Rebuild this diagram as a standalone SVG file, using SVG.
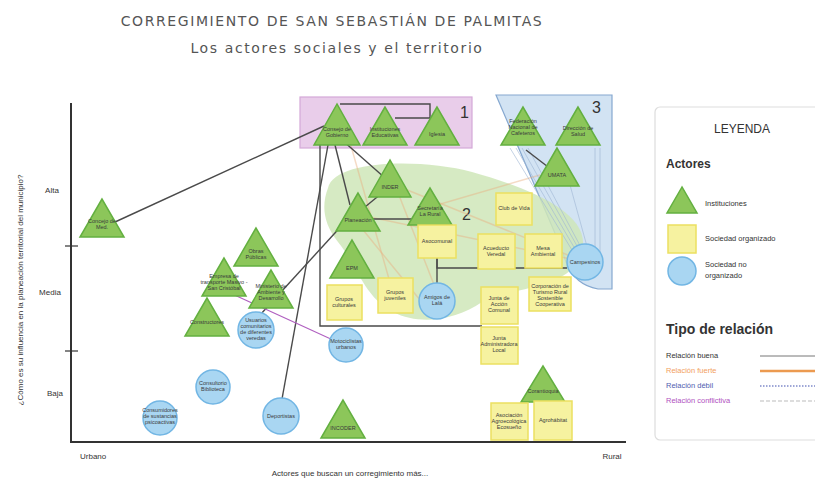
<svg xmlns="http://www.w3.org/2000/svg" width="815" height="480" viewBox="0 0 815 480">
<defs>
<style>
.t{font-family:"Liberation Sans Narrow","Liberation Sans",Arial,sans-serif;fill:#333}
.title{font-family:"DejaVu Sans","Liberation Sans",sans-serif;fill:#555;font-size:14px;letter-spacing:1.6px}
.nl{font-family:"Liberation Sans Narrow","Liberation Sans",Arial,sans-serif;font-size:5.5px;fill:#3a3a3a;text-anchor:middle}
.tri{fill:#8cc65a;stroke:#63b040;stroke-width:1.5}
.sq{fill:#f6f2a0;stroke:#ebe060;stroke-width:1.5}
.ci{fill:#a9d6f2;stroke:#72b6e4;stroke-width:1.5}
.ax{stroke:#333;stroke-width:2;fill:none}
.c{stroke:#4a4a4a;stroke-width:1.4;fill:none}
.cf{stroke:#e8b080;stroke-width:1.5;fill:none;opacity:0.45}
.cb{stroke:#9fb6d4;stroke-width:1;fill:none;opacity:0.6}
.lab{font-family:"Liberation Sans Narrow","Liberation Sans",Arial,sans-serif;font-size:8px;fill:#333}
</style>
</defs>
<rect width="815" height="480" fill="#fff"/>
<text class="title" x="332" y="26" text-anchor="middle">CORREGIMIENTO DE SAN SEBASTIÁN DE PALMITAS</text>
<text class="title" x="337" y="53" text-anchor="middle">Los actores sociales y el territorio</text>

<g id="area1">
<rect x="300" y="97" width="172" height="51" fill="#e9cdea" stroke="#d4a8d8" stroke-width="1.2"/>
<text class="t" x="460" y="118" font-size="16">1</text>
</g>
<g id="area3">
<path d="M496,95 L612,95 L612,289 L598,289 Q575,285 566,262 L560,245 Z" fill="#d2e3f3" stroke="#86a8d0" stroke-width="1.2"/>
<text class="t" x="592" y="113" font-size="16">3</text>
</g>
<g id="area2">
<path d="M328,188 C334,160 420,158 472,172 C522,186 586,210 583,245 C580,290 512,286 482,302 C456,320 420,326 393,312 C363,296 358,266 338,242 C322,222 322,204 328,188 Z" fill="#cfe6b8" opacity="0.85"/>
<text class="t" x="462" y="220" font-size="16">2</text>
</g>

<g id="axes">
<line class="ax" x1="71" y1="103" x2="71" y2="443"/>
<line class="ax" x1="70" y1="442" x2="626" y2="442"/>
<line x1="65" y1="246" x2="78" y2="246" stroke="#333" stroke-width="1.2"/>
<line x1="65" y1="351" x2="78" y2="351" stroke="#333" stroke-width="1.2"/>
<text class="lab" x="52" y="193" text-anchor="middle" font-size="9">Alta</text>
<text class="lab" x="50" y="295" text-anchor="middle" font-size="9">Media</text>
<text class="lab" x="55" y="396" text-anchor="middle" font-size="9">Baja</text>
<text class="lab" transform="translate(23,290) rotate(-90)" text-anchor="middle" font-size="9">¿Cómo es su influencia en la planeación territorial del municipio?</text>
<text class="lab" x="80" y="459" font-size="9">Urbano</text>
<text class="lab" x="612" y="459" text-anchor="middle" font-size="9">Rural</text>
<text class="lab" x="350" y="476" text-anchor="middle" font-size="9">Actores que buscan un corregimiento más...</text>
</g>

<g id="connectors">
<line class="cf" x1="360" y1="215" x2="585" y2="262"/>
<line class="cf" x1="395" y1="185" x2="585" y2="262"/>
<line class="cf" x1="345" y1="125" x2="395" y2="300"/>
<line class="cf" x1="420" y1="210" x2="540" y2="175"/>
<line class="cf" x1="395" y1="185" x2="440" y2="300"/>
<line class="cf" x1="355" y1="220" x2="420" y2="300"/>
<line class="cb" x1="510" y1="148" x2="575" y2="255"/>
<line class="cb" x1="516" y1="148" x2="578" y2="254"/>
<line class="cb" x1="522" y1="148" x2="581" y2="253"/>
<line class="cb" x1="528" y1="148" x2="584" y2="253"/>
<line class="cb" x1="595" y1="148" x2="595" y2="255"/>
<line class="cb" x1="600" y1="148" x2="600" y2="255"/>
<line class="cb" x1="570" y1="185" x2="588" y2="250"/>
<line class="c" x1="115" y1="222" x2="324" y2="126"/>
<polyline class="c" points="340,104 430,104 430,118 395,118"/>
<polyline class="c" points="320,145 320,326 482,326"/>
<line class="c" x1="328" y1="145" x2="282" y2="399"/>
<line class="c" x1="335" y1="145" x2="350" y2="205"/>
<line class="c" x1="342" y1="140" x2="385" y2="178"/>
<line class="c" x1="345" y1="222" x2="260" y2="315"/>
<line class="c" x1="365" y1="207" x2="382" y2="193"/>
<line class="c" x1="372" y1="219" x2="414" y2="219"/>
<line class="c" x1="526" y1="150" x2="552" y2="170"/>
<polyline class="c" points="437,258 437,268 567,268" stroke="#3f5a3a"/>
<line class="c" x1="437" y1="258" x2="437" y2="283"/>
<line x1="228" y1="292" x2="333" y2="340" stroke="#b060c0" stroke-width="1.2"/>
</g>

<g id="n-consejo"><polygon class="tri" points="337,104 314,145 360,145"/><text class="nl" x="337" y="131">Consejo de</text><text class="nl" x="337" y="137">Gobierno</text></g>
<g id="n-instituciones"><polygon class="tri" points="385,107 363,145 407,145"/><text class="nl" x="385" y="131">Instituciones</text><text class="nl" x="385" y="137">Educativas</text></g>
<g id="n-iglesia"><polygon class="tri" points="437,107 415,145 459,145"/><text class="nl" x="437" y="136">Iglesia</text></g>
<g id="n-federacion"><polygon class="tri" points="523,107 501,145 545,145"/><text class="nl" x="523" y="123">Federación</text><text class="nl" x="523" y="129">Nacional de</text><text class="nl" x="523" y="135">Cafeteros</text></g>
<g id="n-salud"><polygon class="tri" points="578,107 556,145 600,145"/><text class="nl" x="578" y="130">Dirección de</text><text class="nl" x="578" y="136">Salud</text></g>
<g id="n-umata"><polygon class="tri" points="557,148 535,186 579,186"/><text class="nl" x="557" y="177">UMATA</text></g>
<g id="n-inder"><polygon class="tri" points="390,160 369,197 411,197"/><text class="nl" x="390" y="189">INDER</text></g>
<g id="n-planeacion"><polygon class="tri" points="358,193 336,231 380,231"/><text class="nl" x="358" y="222">Planeación</text></g>
<g id="n-secretaria"><polygon class="tri" points="430,188 408,225 452,225"/><text class="nl" x="430" y="210">Secretaría</text><text class="nl" x="430" y="216">La Rural</text></g>
<g id="n-epm"><polygon class="tri" points="352,240 330,278 374,278"/><text class="nl" x="352" y="270">EPM</text></g>
<g id="n-obras"><polygon class="tri" points="256,228 234,266 278,266"/><text class="nl" x="256" y="253">Obras</text><text class="nl" x="256" y="259">Públicas</text></g>
<g id="n-empresa"><polygon class="tri" points="224,258 202,296 246,296"/><text class="nl" x="224" y="278">Empresa de</text><text class="nl" x="224" y="284">transporte Masivo -</text><text class="nl" x="224" y="290">San Cristóbal</text></g>
<g id="n-ministerio"><polygon class="tri" points="271,270 249,308 293,308"/><text class="nl" x="271" y="288">Ministerio de</text><text class="nl" x="271" y="294">Ambiente y</text><text class="nl" x="271" y="300">Desarrollo</text></g>
<g id="n-constructores"><polygon class="tri" points="207,298 185,336 229,336"/><text class="nl" x="207" y="324">Constructores</text></g>
<g id="n-concejo"><polygon class="tri" points="102,199 80,237 124,237"/><text class="nl" x="102" y="223">Concejo de</text><text class="nl" x="102" y="229">Med.</text></g>
<g id="n-incoder"><polygon class="tri" points="343,400 321,438 365,438"/><text class="nl" x="343" y="430">INCODER</text></g>
<g id="n-corantioquia"><polygon class="tri" points="543,366 521,402 565,402"/><text class="nl" x="543" y="393">Corantioquia</text></g>

<g id="n-club"><rect class="sq" x="496" y="193" width="36" height="32"/><text class="nl" x="514" y="210">Club de Vida</text></g>
<g id="n-asocomunal"><rect class="sq" x="418" y="225" width="38" height="33"/><text class="nl" x="437" y="243">Asocomunal</text></g>
<g id="n-acueducto"><rect class="sq" x="478" y="234" width="37" height="35"/><text class="nl" x="496" y="250">Acueducto</text><text class="nl" x="496" y="256">Veredal</text></g>
<g id="n-mesa"><rect class="sq" x="525" y="234" width="37" height="34"/><text class="nl" x="543" y="250">Mesa</text><text class="nl" x="543" y="256">Ambiental</text></g>
<g id="n-corporacion"><rect class="sq" x="529" y="277" width="42" height="34"/><text class="nl" x="550" y="288">Corporación de</text><text class="nl" x="550" y="294">Turismo Rural</text><text class="nl" x="550" y="300">Sostenible</text><text class="nl" x="550" y="306">Cooperativa</text></g>
<g id="n-jac"><rect class="sq" x="481" y="287" width="37" height="37"/><text class="nl" x="499" y="300">Junta de</text><text class="nl" x="499" y="306">Acción</text><text class="nl" x="499" y="312">Comunal</text></g>
<g id="n-jal"><rect class="sq" x="481" y="327" width="37" height="37"/><text class="nl" x="499" y="340">Junta</text><text class="nl" x="499" y="346">Administradora</text><text class="nl" x="499" y="352">Local</text></g>
<g id="n-culturales"><rect class="sq" x="327" y="285" width="35" height="35"/><text class="nl" x="344" y="301">Grupos</text><text class="nl" x="344" y="307">culturales</text></g>
<g id="n-juveniles"><rect class="sq" x="378" y="278" width="35" height="35"/><text class="nl" x="395" y="294">Grupos</text><text class="nl" x="395" y="300">juveniles</text></g>
<g id="n-asociacion"><rect class="sq" x="491" y="403" width="37" height="37"/><text class="nl" x="509" y="417">Asociación</text><text class="nl" x="509" y="423">Agroecológica</text><text class="nl" x="509" y="429">Ecosueño</text></g>
<g id="n-agrohabitat"><rect class="sq" x="534" y="401" width="38" height="39"/><text class="nl" x="553" y="422">Agrohábitat</text></g>

<g id="n-campesinos"><circle class="ci" cx="585" cy="262" r="18"/><text class="nl" x="585" y="264">Campesinos</text></g>
<g id="n-amigos"><circle class="ci" cx="437" cy="301" r="18"/><text class="nl" x="437" y="299">Amigos de</text><text class="nl" x="437" y="305">Lalá</text></g>
<g id="n-moto"><circle class="ci" cx="346" cy="345" r="17"/><text class="nl" x="346" y="343">Motociclistas</text><text class="nl" x="346" y="349">urbanos</text></g>
<g id="n-usuarios"><circle class="ci" cx="256" cy="330" r="18"/><text class="nl" x="256" y="322">Usuarios</text><text class="nl" x="256" y="328">comunitarios</text><text class="nl" x="256" y="334">de diferentes</text><text class="nl" x="256" y="340">veredas</text></g>
<g id="n-consultorio"><circle class="ci" cx="213" cy="387" r="17"/><text class="nl" x="213" y="385">Consultorio</text><text class="nl" x="213" y="391">Biblioteca</text></g>
<g id="n-consumidores"><circle class="ci" cx="160" cy="418" r="17"/><text class="nl" x="160" y="412">Consumidores</text><text class="nl" x="160" y="418">de sustancias</text><text class="nl" x="160" y="424">psicoactivas</text></g>
<g id="n-deportistas"><circle class="ci" cx="281" cy="416" r="18"/><text class="nl" x="281" y="418">Deportistas</text></g>

<g id="legend">
<rect x="655" y="107" width="170" height="333" rx="5" fill="#fff" stroke="#ddd" stroke-width="1.2"/>
<text class="t" x="742" y="133" font-size="12" text-anchor="middle">LEYENDA</text>
<text class="t" x="666" y="168" font-size="12" font-weight="bold">Actores</text>
<polygon class="tri" points="682,187 667,213 697,213"/>
<text class="t" x="705" y="206" font-size="7.5">Instituciones</text>
<rect class="sq" x="668" y="225" width="28" height="28"/>
<text class="t" x="705" y="241" font-size="7.5">Sociedad organizado</text>
<circle class="ci" cx="682" cy="271" r="14"/>
<text class="t" x="705" y="267" font-size="7.5">Sociedad no</text>
<text class="t" x="705" y="278" font-size="7.5">organizado</text>
<text class="t" x="666" y="334" font-size="14" font-weight="bold">Tipo de relación</text>
<text class="t" x="666" y="358" font-size="7.5">Relación buena</text>
<line x1="760" y1="356" x2="815" y2="356" stroke="#777" stroke-width="1"/>
<text class="t" x="666" y="373" font-size="7.5" style="fill:#f2a060">Relación fuerte</text>
<line x1="760" y1="371" x2="815" y2="371" stroke="#ec9a50" stroke-width="2.5"/>
<text class="t" x="666" y="388" font-size="7.5" style="fill:#5060b0">Relación débil</text>
<line x1="760" y1="386" x2="815" y2="386" stroke="#4050b0" stroke-width="1.2" stroke-dasharray="1.5,1.5"/>
<text class="t" x="666" y="403" font-size="7.5" style="fill:#b050c0">Relación conflictiva</text>
<line x1="760" y1="401" x2="815" y2="401" stroke="#bbb" stroke-width="1.2" stroke-dasharray="4,2"/>
</g>
</svg>
